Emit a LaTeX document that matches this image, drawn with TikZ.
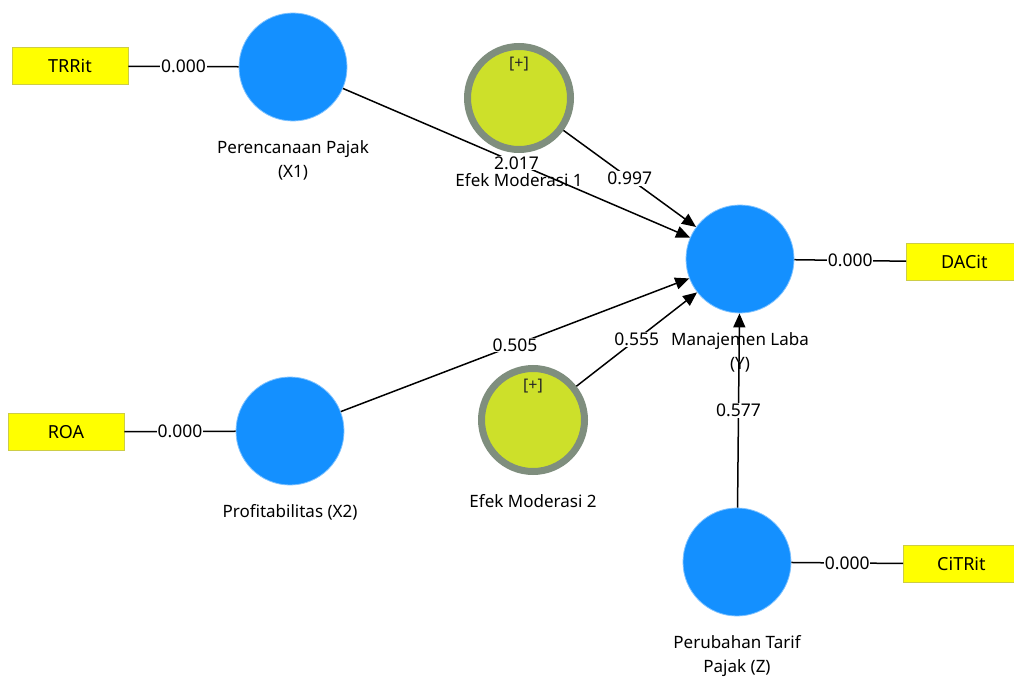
\documentclass[tikz,border=0pt]{standalone}
\usepackage{fontspec}
\setmainfont{Noto Sans}
\usetikzlibrary{arrows.meta, positioning}

\definecolor{lvblue}{RGB}{20,144,255}
\definecolor{indyellow}{RGB}{255,255,0}
\definecolor{indedge}{RGB}{205,205,70}
\definecolor{modfill}{RGB}{205,224,42}
\definecolor{modring}{RGB}{127,142,126}

\begin{document}
\begin{tikzpicture}[x=1pt,y=-1pt,
  latent/.style={circle,fill=lvblue,draw=lvblue!55,line width=0.8pt,minimum size=108pt,inner sep=0pt},
  moderator/.style={circle,fill=modfill,draw=modring,line width=7pt,minimum size=103pt,inner sep=0pt},
  indicator/.style={rectangle,fill=indyellow,draw=indedge,line width=0.8pt,minimum width=116pt,minimum height=37pt,font=\fontsize{18}{21}\selectfont},
  lbl/.style={font=\fontsize{17}{24}\selectfont,align=center,inner sep=0pt,text=black},
  plusmark/.style={font=\fontsize{16}{18}\selectfont,inner sep=0pt,text=black!85},
  coef/.style={fill=white,inner sep=0.8pt,font=\fontsize{17.5}{20}\selectfont},
  effect/.style={line width=1.5pt,-{Triangle[length=14pt,width=12pt]}},
  loading/.style={line width=1.5pt}]
\clip (0,0) rectangle (1014,679);

% constructs
\node[latent] (x1) at (293,67) {};
\node[moderator] (em1) at (519,98) {};
\node[latent] (y) at (740,259) {};
\node[latent] (x2) at (290,431) {};
\node[moderator] (em2) at (533,420) {};
\node[latent] (z) at (737,562) {};
\node[plusmark] (em1plus) at (519,64) {[+]};
\node[plusmark] (em2plus) at (533,386) {[+]};

% indicators
\node[indicator] (trrit) at (70,66) {TRRit};
\node[indicator] (roa) at (66,432) {ROA};
\node[indicator,anchor=west] (dacit) at (906,262) {DACit};
\node[indicator,anchor=west] (citrit) at (903,564) {CiTRit};

% construct names
\node[lbl,below=19pt of x1] (x1name) {Perencanaan Pajak\\(X1)};
\node[lbl,below=20pt of em1] (em1name) {Efek Moderasi 1};
\node[lbl,below=19pt of y] (yname) {Manajemen Laba\\(Y)};
\node[lbl,below=19pt of x2] (x2name) {Profitabilitas (X2)};
\node[lbl,below=19pt of em2] (em2name) {Efek Moderasi 2};
\node[lbl,below=19pt of z] (zname) {Perubahan Tarif\\Pajak (Z)};

% inner model
\draw[effect] (x1) -- node[coef] {2.017} (y);
\draw[effect] (em1) -- node[coef] {0.997} (y);
\draw[effect] (x2) -- node[coef] {0.505} (y);
\draw[effect] (em2) -- node[coef] {0.555} (y);
\draw[effect] (z) -- node[coef] {0.577} (y);

% outer model
\draw[loading] (trrit) -- node[coef] {0.000} (x1);
\draw[loading] (roa) -- node[coef] {0.000} (x2);
\draw[loading] (y) -- node[coef] {0.000} (dacit);
\draw[loading] (z) -- node[coef] {0.000} (citrit);
\end{tikzpicture}
\end{document}
